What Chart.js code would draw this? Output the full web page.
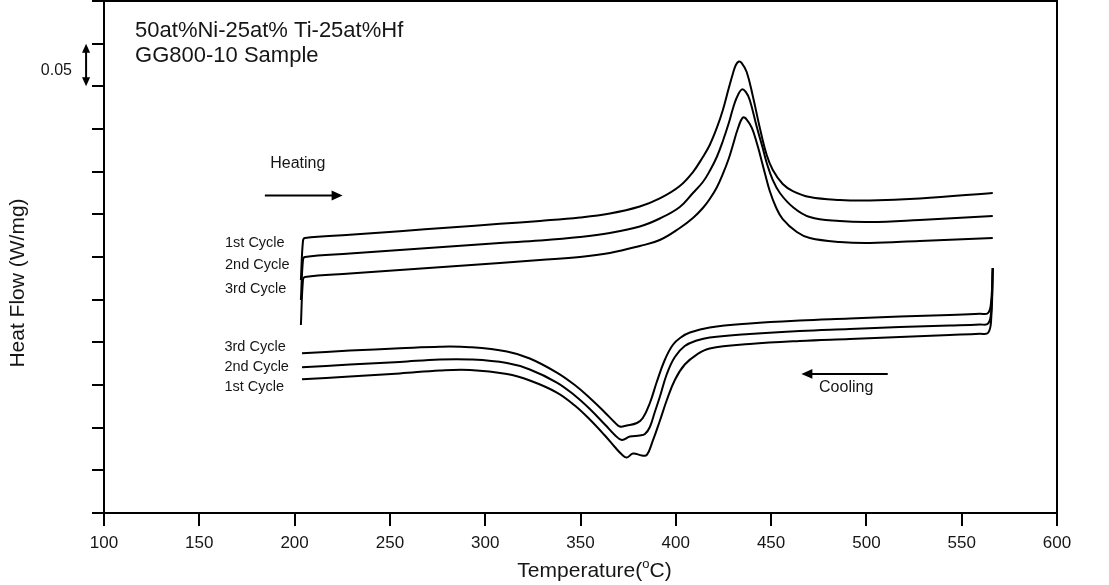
<!DOCTYPE html>
<html>
<head>
<meta charset="utf-8">
<script src="https://cdn.jsdelivr.net/npm/chart.js@4.4.0/dist/chart.umd.min.js"></script>
<style>
  html, body { margin: 0; padding: 0; background: #fff; }
  #wrap { width: 1109px; height: 585px; }
</style>
</head>
<body>
<div id="wrap"><canvas id="dsc" width="1109" height="585"></canvas></div>
<script>
// temperatures (°C) and heat flow (W/mg, arbitrary offset)
const heat1Temp = [203.3, 204.4, 205.4, 229.0, 255.2, 281.5, 307.7, 328.7, 349.7, 365.4, 381.1, 391.6, 402.1, 409.0, 414.2, 417.8, 421.5, 424.7, 427.8, 429.9, 431.5, 433.1, 434.6, 437.2, 440.4, 444.1, 447.7, 450.9, 456.1, 461.4, 470.3, 486.0, 501.8, 528.0, 566.3];
const heat1Flow = [0.2730, 0.3188, 0.3223, 0.3261, 0.3303, 0.3346, 0.3389, 0.3423, 0.3463, 0.3510, 0.3592, 0.3686, 0.3832, 0.3996, 0.4172, 0.4313, 0.4512, 0.4723, 0.4980, 0.5145, 0.5250, 0.5291, 0.5273, 0.5168, 0.4887, 0.4512, 0.4195, 0.4020, 0.3855, 0.3773, 0.3703, 0.3668, 0.3662, 0.3686, 0.3750];

const heat2Temp = [203.3, 204.4, 205.4, 229.0, 255.2, 281.5, 307.7, 328.7, 349.7, 365.4, 381.1, 391.6, 402.1, 409.0, 414.2, 417.8, 421.5, 424.7, 427.8, 429.9, 432.0, 434.6, 436.7, 438.8, 442.5, 445.6, 447.7, 450.9, 454.6, 461.4, 470.3, 486.0, 501.8, 528.0, 566.3];
const heat2Flow = [0.2496, 0.2965, 0.3000, 0.3041, 0.3082, 0.3123, 0.3164, 0.3193, 0.3234, 0.3281, 0.3357, 0.3451, 0.3586, 0.3750, 0.3879, 0.4008, 0.4172, 0.4359, 0.4570, 0.4734, 0.4869, 0.4963, 0.4934, 0.4840, 0.4523, 0.4277, 0.4102, 0.3902, 0.3750, 0.3586, 0.3469, 0.3422, 0.3410, 0.3434, 0.3480];

const heat3Temp = [203.3, 204.4, 205.4, 229.0, 255.2, 281.5, 307.7, 328.7, 349.7, 365.4, 381.1, 391.6, 402.1, 409.0, 414.2, 417.8, 421.5, 424.7, 427.8, 429.9, 432.5, 435.2, 437.2, 439.9, 442.5, 444.1, 446.7, 449.3, 452.5, 456.1, 463.5, 470.3, 486.0, 501.8, 528.0, 566.3];
const heat3Flow = [0.2203, 0.2730, 0.2766, 0.2807, 0.2848, 0.2889, 0.2930, 0.2965, 0.3000, 0.3047, 0.3129, 0.3199, 0.3340, 0.3457, 0.3574, 0.3680, 0.3815, 0.3973, 0.4154, 0.4307, 0.4500, 0.4635, 0.4611, 0.4512, 0.4336, 0.4207, 0.3984, 0.3773, 0.3586, 0.3445, 0.3293, 0.3223, 0.3176, 0.3164, 0.3188, 0.3223];

const cool3Temp = [203.9, 229.0, 255.2, 276.2, 292.0, 311.4, 323.4, 337.6, 347.0, 354.9, 362.8, 368.0, 370.6, 374.3, 379.6, 382.7, 386.4, 390.0, 394.2, 398.4, 402.6, 407.4, 417.8, 438.8, 465.0, 491.3, 517.5, 543.7, 559.5, 563.9, 565.5, 566.3];
const cool3Flow = [0.1871, 0.1903, 0.1930, 0.1949, 0.1943, 0.1893, 0.1811, 0.1646, 0.1500, 0.1348, 0.1178, 0.1061, 0.1014, 0.1025, 0.1055, 0.1113, 0.1289, 0.1535, 0.1793, 0.1969, 0.2057, 0.2115, 0.2174, 0.2221, 0.2256, 0.2279, 0.2303, 0.2320, 0.2334, 0.2346, 0.2496, 0.2871];

const cool2Temp = [203.9, 229.0, 255.2, 276.2, 292.0, 311.4, 323.4, 337.6, 347.0, 354.9, 362.8, 368.0, 371.7, 375.9, 381.1, 383.8, 386.4, 389.0, 391.6, 395.3, 399.5, 404.7, 411.0, 417.8, 438.8, 465.0, 491.3, 517.5, 543.7, 559.5, 563.9, 565.5, 566.3];
const cool2Flow = [0.1707, 0.1739, 0.1770, 0.1799, 0.1799, 0.1758, 0.1682, 0.1529, 0.1377, 0.1219, 0.1037, 0.0914, 0.0855, 0.0896, 0.0908, 0.0926, 0.1008, 0.1184, 0.1359, 0.1629, 0.1828, 0.1957, 0.2021, 0.2057, 0.2098, 0.2133, 0.2156, 0.2180, 0.2197, 0.2209, 0.2221, 0.2379, 0.2871];

const cool1Temp = [203.9, 229.0, 255.2, 276.2, 292.0, 311.4, 323.4, 337.6, 347.0, 354.9, 362.8, 368.0, 371.7, 374.3, 377.5, 382.2, 384.8, 387.9, 391.6, 395.3, 399.5, 404.7, 411.0, 417.8, 438.8, 465.0, 491.3, 517.5, 543.7, 559.5, 563.9, 565.5, 566.3];
const cool1Flow = [0.1567, 0.1600, 0.1635, 0.1670, 0.1676, 0.1629, 0.1553, 0.1412, 0.1260, 0.1096, 0.0908, 0.0773, 0.0686, 0.0650, 0.0697, 0.0674, 0.0680, 0.0844, 0.1078, 0.1324, 0.1559, 0.1740, 0.1857, 0.1928, 0.1980, 0.2016, 0.2039, 0.2063, 0.2086, 0.2100, 0.2112, 0.2285, 0.2871];

const FONT = '"Liberation Sans", Arial, Helvetica, sans-serif';
const INK = '#161616';

function toPoints(temps, flows) {
  return temps.map((t, i) => ({ x: t, y: flows[i] }));
}

function series(label, temps, flows) {
  return {
    label,
    data: toPoints(temps, flows),
    borderColor: '#000',
    borderWidth: 2,
    pointRadius: 0,
    fill: false,
    tension: 0.4
  };
}

function arrow(ctx, x1, y1, x2, y2, head) {
  const ang = Math.atan2(y2 - y1, x2 - x1);
  const c = Math.cos(ang), s = Math.sin(ang);
  ctx.beginPath();
  ctx.moveTo(x1, y1);
  ctx.lineTo(x2 - head * 0.8 * c, y2 - head * 0.8 * s);
  ctx.stroke();
  ctx.beginPath();
  ctx.moveTo(x2, y2);
  ctx.lineTo(x2 - head * c + head * 0.45 * s, y2 - head * s - head * 0.45 * c);
  ctx.lineTo(x2 - head * c - head * 0.45 * s, y2 - head * s + head * 0.45 * c);
  ctx.closePath();
  ctx.fill();
}

// labels, arrows and the top/right frame
const annotations = {
  id: 'annotations',
  afterDraw(chart) {
    const { ctx, chartArea: area, scales: { x, y } } = chart;
    const px = (v) => x.getPixelForValue(v);
    const py = (v) => y.getPixelForValue(v);

    ctx.save();
    ctx.strokeStyle = '#000';
    ctx.fillStyle = '#000';
    ctx.lineWidth = 2;
    ctx.beginPath();
    ctx.moveTo(area.left, area.top);
    ctx.lineTo(area.right, area.top);
    ctx.lineTo(area.right, area.bottom);
    ctx.stroke();

    // scale bar 0.05
    const bx = px(90.6);
    arrow(ctx, bx, (py(0.55) + py(0.5)) / 2, bx, py(0.55), 9);
    arrow(ctx, bx, (py(0.55) + py(0.5)) / 2, bx, py(0.5), 9);

    // heating / cooling arrows
    arrow(ctx, px(184.4), py(0.372), px(225.2), py(0.372), 11);
    arrow(ctx, px(511.2), py(0.163), px(465.9), py(0.163), 11);

    ctx.fillStyle = INK;
    ctx.textBaseline = 'alphabetic';
    ctx.textAlign = 'left';
    ctx.font = `22px ${FONT}`;
    ctx.fillText('50at%Ni-25at% Ti-25at%Hf', px(116.3), py(0.558));
    ctx.fillText('GG800-10 Sample', px(116.3), py(0.5285));

    ctx.textBaseline = 'middle';
    ctx.textAlign = 'right';
    ctx.font = `16px ${FONT}`;
    ctx.fillText('0.05', px(83.2), py(0.519));

    ctx.textAlign = 'center';
    ctx.font = `16px ${FONT}`;
    ctx.fillText('Heating', px(201.7), py(0.410));
    ctx.fillText('Cooling', px(489.4), py(0.1465));

    ctx.textAlign = 'left';
    ctx.font = `14.5px ${FONT}`;
    ctx.fillText('1st Cycle', px(163.5), py(0.3164));
    ctx.fillText('2nd Cycle', px(163.5), py(0.2906));
    ctx.fillText('3rd Cycle', px(163.5), py(0.2625));
    ctx.fillText('3rd Cycle', px(163.2), py(0.1945));
    ctx.fillText('2nd Cycle', px(163.2), py(0.1711));
    ctx.fillText('1st Cycle', px(163.2), py(0.1477));

    // axis titles
    ctx.save();
    ctx.translate(18, 283);
    ctx.rotate(-Math.PI / 2);
    ctx.textAlign = 'center';
    ctx.textBaseline = 'middle';
    ctx.font = `21px ${FONT}`;
    ctx.fillText('Heat Flow (W/mg)', 0, 0);
    ctx.restore();

    const main = `21px ${FONT}`;
    const sup = `13px ${FONT}`;
    ctx.textBaseline = 'alphabetic';
    ctx.textAlign = 'left';
    ctx.font = main;
    const w1 = ctx.measureText('Temperature(').width;
    const w3 = ctx.measureText('C)').width;
    ctx.font = sup;
    const w2 = ctx.measureText('o').width;
    let tx = 594.5 - (w1 + w2 + w3) / 2;
    const base = 577;
    ctx.font = main;
    ctx.fillText('Temperature(', tx, base);
    tx += w1;
    ctx.font = sup;
    ctx.fillText('o', tx, base - 9);
    tx += w2;
    ctx.font = main;
    ctx.fillText('C)', tx, base);
    ctx.restore();
  }
};

Chart.defaults.font.family = FONT;

new Chart(document.getElementById('dsc'), {
  type: 'line',
  data: {
    datasets: [
      series('Heating 1st Cycle', heat1Temp, heat1Flow),
      series('Heating 2nd Cycle', heat2Temp, heat2Flow),
      series('Heating 3rd Cycle', heat3Temp, heat3Flow),
      series('Cooling 3rd Cycle', cool3Temp, cool3Flow),
      series('Cooling 2nd Cycle', cool2Temp, cool2Flow),
      series('Cooling 1st Cycle', cool1Temp, cool1Flow)
    ]
  },
  options: {
    responsive: false,
    animation: false,
    devicePixelRatio: 1,
    layout: { padding: { left: 0, right: 52, top: 1, bottom: 0 } },
    plugins: {
      legend: { display: false },
      tooltip: { enabled: false }
    },
    scales: {
      x: {
        type: 'linear',
        min: 100,
        max: 600,
        afterFit(scale) { scale.height = 72; },
        ticks: {
          stepSize: 50,
          autoSkip: false,
          maxRotation: 0,
          padding: 7,
          color: INK,
          font: { size: 17 }
        },
        grid: {
          drawOnChartArea: false,
          drawTicks: true,
          tickLength: 13,
          color: '#000',
          lineWidth: 2
        },
        border: { display: true, color: '#000', width: 2 }
      },
      y: {
        type: 'linear',
        min: 0,
        max: 0.6,
        afterFit(scale) { scale.width = 104; },
        ticks: {
          stepSize: 0.05,
          display: false
        },
        grid: {
          drawOnChartArea: false,
          drawTicks: true,
          tickLength: 12,
          color: '#000',
          lineWidth: 2
        },
        border: { display: true, color: '#000', width: 2 }
      }
    }
  },
  plugins: [annotations]
});
</script>
</body>
</html>
